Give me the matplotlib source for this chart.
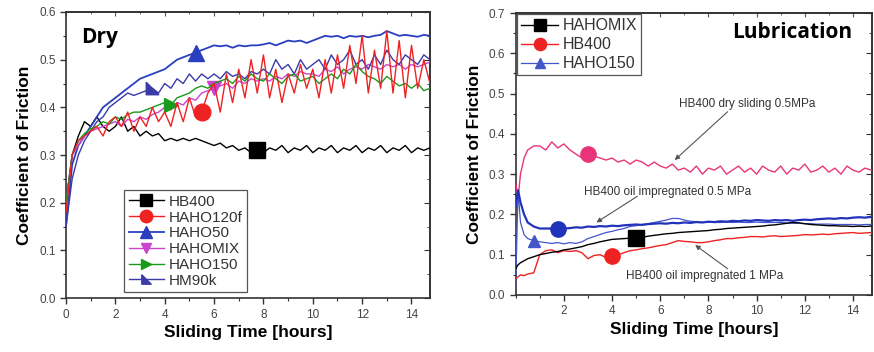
import numpy as np
import matplotlib
matplotlib.use("Agg")
import matplotlib.pyplot as plt
from matplotlib.ticker import MultipleLocator

plt.rcParams['font.family'] = ['Liberation Sans', 'DejaVu Sans']

# ---------------- Dry (left) : one sample every 0.25 h ----------------
t_dry = np.arange(0, 14.76, 0.25)

dry_hb400 = [0.20, 0.30, 0.34, 0.37, 0.36, 0.38, 0.36, 0.35,
             0.36, 0.38, 0.35, 0.36, 0.34, 0.35, 0.34, 0.345,
             0.33, 0.335, 0.33, 0.335, 0.33, 0.335, 0.33, 0.325,
             0.32, 0.325, 0.315, 0.32, 0.31, 0.315, 0.305, 0.31,
             0.305, 0.315, 0.31, 0.32, 0.305, 0.315, 0.31, 0.32,
             0.305, 0.315, 0.31, 0.32, 0.305, 0.315, 0.31, 0.32,
             0.305, 0.315, 0.31, 0.32, 0.305, 0.315, 0.31, 0.32,
             0.305, 0.315, 0.31, 0.315]
dry_haho120f = [0.18, 0.30, 0.33, 0.34, 0.35, 0.36, 0.34, 0.37,
                0.38, 0.36, 0.39, 0.35, 0.38, 0.36, 0.40, 0.37,
                0.39, 0.36, 0.41, 0.37, 0.42, 0.38, 0.39, 0.43,
                0.45, 0.39, 0.47, 0.41, 0.48, 0.42, 0.50, 0.43,
                0.51, 0.42, 0.48, 0.41, 0.47, 0.43, 0.49, 0.44,
                0.48, 0.42, 0.50, 0.43, 0.51, 0.44, 0.53, 0.45,
                0.55, 0.43, 0.52, 0.44, 0.56, 0.43, 0.54, 0.42,
                0.53, 0.44, 0.50, 0.45]
dry_haho50 = [0.15, 0.28, 0.32, 0.34, 0.36, 0.38, 0.40, 0.41,
              0.42, 0.43, 0.44, 0.45, 0.46, 0.465, 0.47, 0.475,
              0.48, 0.49, 0.50, 0.505, 0.51, 0.515, 0.52, 0.525,
              0.53, 0.528, 0.53, 0.525, 0.53, 0.528, 0.53, 0.53,
              0.532, 0.535, 0.53, 0.535, 0.54, 0.538, 0.54, 0.535,
              0.54, 0.545, 0.55, 0.548, 0.55, 0.545, 0.55, 0.548,
              0.55, 0.547, 0.55, 0.552, 0.56, 0.555, 0.55, 0.552,
              0.55, 0.548, 0.552, 0.55]
dry_hahomix = [0.20, 0.30, 0.32, 0.34, 0.35, 0.355, 0.36, 0.365,
               0.37, 0.36, 0.375, 0.37, 0.38, 0.375, 0.385, 0.39,
               0.40, 0.395, 0.41, 0.405, 0.42, 0.415, 0.43, 0.435,
               0.44, 0.445, 0.45, 0.44, 0.455, 0.45, 0.46, 0.455,
               0.46, 0.455, 0.465, 0.46, 0.47, 0.465, 0.475, 0.47,
               0.47, 0.465, 0.48, 0.475, 0.485, 0.47, 0.48, 0.485,
               0.48, 0.49, 0.485, 0.48, 0.49, 0.485, 0.49, 0.48,
               0.49, 0.485, 0.49, 0.495]
dry_haho150 = [0.20, 0.30, 0.33, 0.345, 0.355, 0.36, 0.37, 0.365,
               0.38, 0.375, 0.385, 0.39, 0.39, 0.395, 0.40, 0.405,
               0.41, 0.405, 0.42, 0.425, 0.43, 0.44, 0.445, 0.44,
               0.45, 0.455, 0.46, 0.45, 0.465, 0.455, 0.47, 0.46,
               0.455, 0.47, 0.46, 0.45, 0.465, 0.47, 0.455, 0.46,
               0.465, 0.45, 0.46, 0.47, 0.46, 0.48, 0.47, 0.49,
               0.475, 0.465, 0.46, 0.45, 0.465, 0.455, 0.445, 0.45,
               0.44, 0.45, 0.435, 0.44]
dry_hm90k = [0.15, 0.25, 0.30, 0.33, 0.35, 0.37, 0.38, 0.40,
             0.41, 0.42, 0.43, 0.425, 0.43, 0.435, 0.44, 0.43,
             0.45, 0.44, 0.46, 0.45, 0.47, 0.455, 0.47, 0.46,
             0.47, 0.46, 0.475, 0.465, 0.47, 0.46, 0.475, 0.47,
             0.48, 0.47, 0.50, 0.48, 0.49, 0.47, 0.50, 0.48,
             0.49, 0.50, 0.48, 0.51, 0.49, 0.50, 0.52, 0.49,
             0.50, 0.48, 0.51, 0.49, 0.52, 0.50, 0.49, 0.51,
             0.50, 0.49, 0.51, 0.50]

# ---------------- Lubrication (right) ----------------
t_lub = np.concatenate([[0.0, 0.1, 0.2, 0.35, 0.5, 0.75], np.arange(1.0, 14.76, 0.25)])

lub_dry_05 = [0.28, 0.24, 0.30, 0.34, 0.36, 0.37,
              0.37, 0.36, 0.38, 0.365, 0.375, 0.36, 0.35, 0.34,
              0.35, 0.345, 0.34, 0.335, 0.34, 0.33, 0.335, 0.325,
              0.335, 0.33, 0.32, 0.33, 0.32, 0.315, 0.325, 0.31,
              0.315, 0.305, 0.32, 0.30, 0.315, 0.31, 0.32, 0.30,
              0.31, 0.32, 0.305, 0.315, 0.30, 0.32, 0.31, 0.305,
              0.32, 0.30, 0.315, 0.31, 0.325, 0.305, 0.31, 0.32,
              0.305, 0.315, 0.30, 0.32, 0.31, 0.305, 0.315, 0.31]
lub_oil_05 = [0.22, 0.26, 0.23, 0.20, 0.18, 0.17,
              0.165, 0.165, 0.165, 0.163, 0.165, 0.166, 0.168, 0.167,
              0.17, 0.169, 0.171, 0.17, 0.172, 0.171, 0.173, 0.174,
              0.175, 0.174, 0.176, 0.177, 0.178, 0.177, 0.179, 0.178,
              0.18, 0.179, 0.181, 0.18, 0.182, 0.181, 0.183, 0.182,
              0.184, 0.183, 0.185, 0.184, 0.186, 0.185, 0.184, 0.186,
              0.185, 0.186, 0.184, 0.186, 0.187, 0.186, 0.188, 0.189,
              0.19, 0.189, 0.191, 0.19, 0.192, 0.193, 0.192, 0.194]
lub_haho150 = [0.02, 0.26, 0.18, 0.15, 0.14, 0.135,
               0.132, 0.13, 0.128, 0.13, 0.127, 0.13, 0.128, 0.132,
               0.14, 0.145, 0.15, 0.155, 0.158, 0.162, 0.165, 0.17,
               0.172, 0.175, 0.177, 0.18, 0.183, 0.186, 0.19, 0.19,
               0.186, 0.183, 0.182, 0.18, 0.181, 0.18, 0.18, 0.181,
               0.18, 0.181, 0.18, 0.18, 0.181, 0.18, 0.18, 0.18,
               0.18, 0.179, 0.178, 0.178, 0.177, 0.177, 0.176, 0.176,
               0.176, 0.175, 0.175, 0.175, 0.175, 0.174, 0.175, 0.175]
lub_hahomix = [0.065, 0.075, 0.08, 0.085, 0.09, 0.095,
               0.10, 0.103, 0.106, 0.108, 0.112, 0.114, 0.117, 0.12,
               0.125, 0.128, 0.132, 0.135, 0.138, 0.139, 0.14, 0.141,
               0.142, 0.143, 0.146, 0.148, 0.15, 0.152, 0.153, 0.155,
               0.156, 0.157, 0.158, 0.159, 0.16, 0.162, 0.163, 0.165,
               0.166, 0.167, 0.168, 0.169, 0.17, 0.171, 0.173, 0.174,
               0.176, 0.178, 0.18, 0.179, 0.177, 0.175, 0.174, 0.173,
               0.172, 0.172, 0.171, 0.171, 0.17, 0.171, 0.17, 0.171]
lub_oil_1 = [0.04, 0.045, 0.05, 0.048, 0.052, 0.055,
             0.10, 0.11, 0.112, 0.105, 0.11, 0.108, 0.11, 0.105,
             0.09, 0.098, 0.10, 0.093, 0.097, 0.10, 0.105, 0.11,
             0.112, 0.115, 0.117, 0.12, 0.123, 0.125, 0.13, 0.135,
             0.133, 0.132, 0.13, 0.13, 0.132, 0.135, 0.137, 0.14,
             0.14, 0.142, 0.143, 0.145, 0.145, 0.144, 0.146, 0.147,
             0.145, 0.146, 0.147, 0.148, 0.15, 0.149, 0.15, 0.151,
             0.15, 0.152, 0.153, 0.154, 0.155, 0.153, 0.154, 0.155]

TICK_COL = '#444444'
corner_tri = [(-1, 1), (-1, -1), (1, -1), (-1, 1)]


def style_axes(ax, xmax, ymax, xticks):
    ax.set_xlim(0, xmax)
    ax.set_ylim(0, ymax)
    ax.set_xticks(xticks)
    ax.xaxis.set_minor_locator(MultipleLocator(1))
    ax.yaxis.set_major_locator(MultipleLocator(0.1))
    ax.yaxis.set_minor_locator(MultipleLocator(0.05))
    ax.tick_params(which='both', direction='out', colors='#333333',
                   labelcolor=TICK_COL, labelsize=8.5)
    ax.tick_params(which='major', length=4, width=1)
    ax.tick_params(which='minor', length=2, width=0.8)
    for sp in ax.spines.values():
        sp.set_color('#333333')
        sp.set_linewidth(1.2)
    ax.set_xlabel('Sliding Time [hours]', fontsize=12.5, fontweight='bold', labelpad=3)
    ax.set_ylabel('Coefficient of Friction', fontsize=12.5, fontweight='bold', labelpad=5)
    # mirrored ticks inside on top / right
    sec = ax.secondary_yaxis('right')
    sec.yaxis.set_major_locator(MultipleLocator(0.1))
    sec.yaxis.set_minor_locator(MultipleLocator(0.05))
    sec.tick_params(which='both', direction='in', labelright=False, colors='#333333')
    sec.tick_params(which='major', length=4)
    sec.tick_params(which='minor', length=2)
    sec.spines['right'].set_linewidth(1.2)
    sec.spines['right'].set_color('#333333')
    top = ax.secondary_xaxis('top')
    top.set_xticks(list(xticks))
    top.xaxis.set_minor_locator(MultipleLocator(1))
    top.tick_params(which='both', direction='in', labeltop=False, colors='#555555')
    top.tick_params(which='major', length=3)
    top.tick_params(which='minor', length=1.5)
    top.spines['top'].set_linewidth(1.2)
    top.spines['top'].set_color('#333333')


fig = plt.figure(figsize=(8.74, 3.52), dpi=100)
ax1 = fig.add_axes([0.0755, 0.153, 0.4165, 0.813])
ax2 = fig.add_axes([0.590, 0.162, 0.408, 0.801])

# ---- left panel ----
ax1.plot(t_dry, dry_hb400, color='black', lw=1, marker='s', ms=11, markevery=[31],
         label='HB400', zorder=3)
ax1.plot(t_dry, dry_haho120f, color='#ee2222', lw=1, marker='o', ms=12, markevery=[22],
         label='HAHO120f', zorder=6)
ax1.plot(t_dry, dry_haho50, color='#2a3fc0', lw=1.3, marker='^', ms=11, markevery=[21],
         label='HAHO50', zorder=4)
ax1.plot(t_dry, dry_hahomix, color='#cc44cc', lw=1, marker='v', ms=10, markevery=[24],
         label='HAHOMIX', zorder=4)
ax1.plot(t_dry, dry_haho150, color='#1a9a1a', lw=1, marker='>', ms=10, markevery=[17],
         label='HAHO150', zorder=5)
ax1.plot(t_dry, dry_hm90k, color='#3a3aa8', lw=1, marker=corner_tri, ms=9, markevery=[14],
         label='HM90k', zorder=4)
style_axes(ax1, 14.75, 0.6, range(0, 15, 2))
ax1.text(0.041, 0.91, 'Dry', transform=ax1.transAxes, fontsize=15,
         fontweight='bold', family=['Open Sans', 'DejaVu Sans'], va='center')
leg1 = ax1.legend(loc='lower left', bbox_to_anchor=(0.16, 0.02), fontsize=11,
                  markerscale=0.75, handlelength=2.3, labelspacing=0.12,
                  borderpad=0.3, handletextpad=0.3, borderaxespad=0,
                  fancybox=False, edgecolor='#555555', framealpha=1)
leg1.get_frame().set_linewidth(0.9)
for txt in leg1.get_texts():
    txt.set_color('#333333')

# ---- right panel ----
ax2.plot(t_lub, lub_dry_05, color='#e8357a', lw=1, marker='o', ms=11, markevery=[14], zorder=3)
ax2.plot(t_lub, lub_oil_05, color='#2233bb', lw=1.6, marker='o', ms=11, markevery=[9], zorder=4)
ax2.plot(t_lub, lub_haho150, color='#4455cc', lw=0.9, marker='^', ms=9, markevery=[5],
         label='HAHO150', zorder=3)
ax2.plot(t_lub, lub_hahomix, color='black', lw=1, marker='s', ms=11, markevery=[22],
         label='HAHOMIX', zorder=5)
ax2.plot(t_lub, lub_oil_1, color='#ee2222', lw=1, marker='o', ms=11, markevery=[18],
         label='HB400', zorder=4)
style_axes(ax2, 14.8, 0.7, range(2, 15, 2))
ax2.text(0.606, 0.93, 'Lubrication', transform=ax2.transAxes, fontsize=15,
         fontweight='bold', family=['Open Sans', 'DejaVu Sans'], va='center')

handles, labels = ax2.get_legend_handles_labels()
order = [labels.index(n) for n in ['HAHOMIX', 'HB400', 'HAHO150']]
leg2 = ax2.legend([handles[i] for i in order], [labels[i] for i in order],
                  loc='upper left', bbox_to_anchor=(0.005, 0.995), fontsize=11.5,
                  markerscale=0.8, handlelength=2.3, labelspacing=0.25,
                  borderpad=0.25, handletextpad=0.3, borderaxespad=0,
                  fancybox=False, edgecolor='#555555', framealpha=1)
leg2.get_frame().set_linewidth(0.9)
for txt in leg2.get_texts():
    txt.set_color('#333333')

arrow = dict(arrowstyle='-|>', color='#555555', lw=0.8, mutation_scale=7,
             shrinkA=0, shrinkB=0)
ann_kw = dict(fontsize=8.5, color='#333333', va='center')
ax2.text(6.8, 0.474, 'HB400 dry sliding 0.5MPa', **ann_kw)
ax2.annotate('', xy=(6.6, 0.335), xytext=(8.8, 0.455), arrowprops=arrow)
ax2.text(2.84, 0.256, 'HB400 oil impregnated 0.5 MPa', **ann_kw)
ax2.annotate('', xy=(3.35, 0.18), xytext=(5.05, 0.245), arrowprops=arrow)
ax2.text(4.57, 0.047, 'HB400 oil impregnated 1 MPa', **ann_kw)
ax2.annotate('', xy=(7.45, 0.124), xytext=(8.8, 0.065), arrowprops=arrow)

fig.savefig('out.png', dpi=100)
